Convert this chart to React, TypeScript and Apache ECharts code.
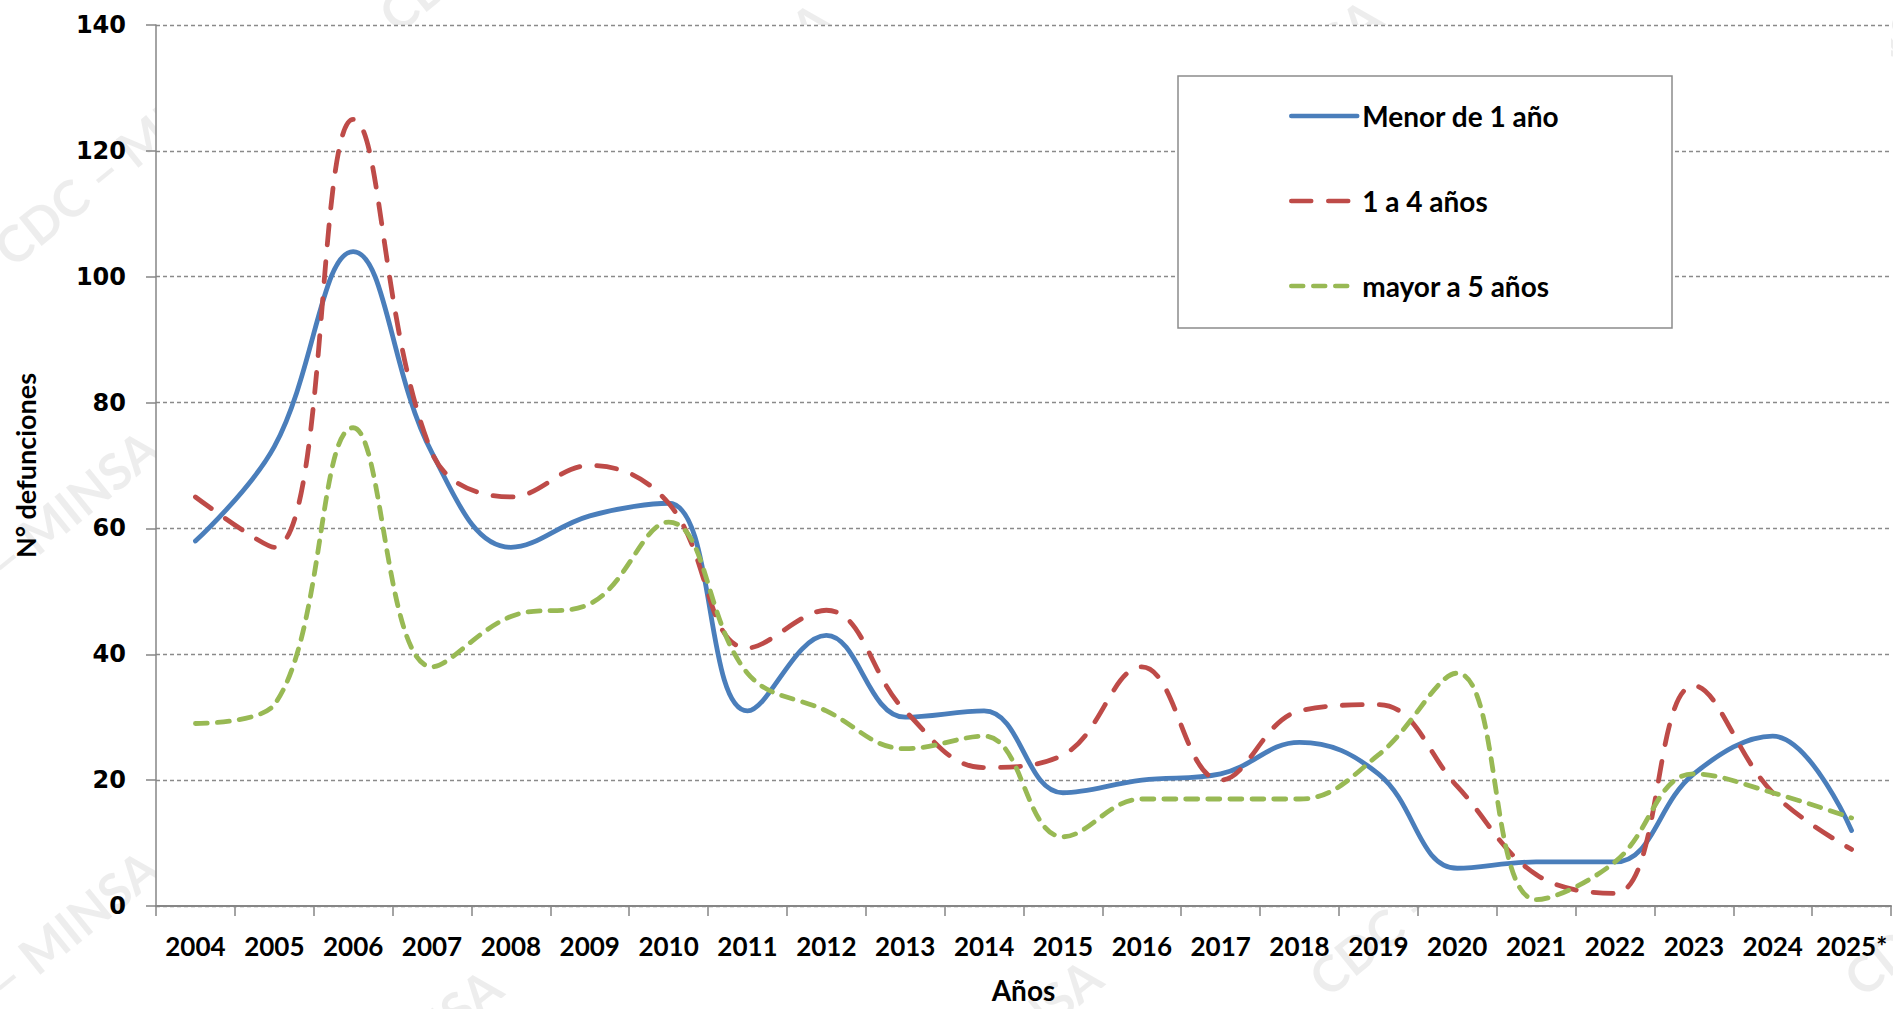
import React, { useEffect, useRef } from "react";
import * as echarts from "echarts";

// ---- Data ----
const years = [
  "2004", "2005", "2006", "2007", "2008", "2009", "2010", "2011", "2012", "2013", "2014",
  "2015", "2016", "2017", "2018", "2019", "2020", "2021", "2022", "2023", "2024", "2025*",
];
const menor1 = [58, 73, 104, 72, 57, 62, 64, 31, 43, 30, 31, 18, 20, 21, 26, 21, 6, 7, 7, 21, 27, 12];
const de1a4 = [65, 57, 125, 72, 65, 70, 64, 41, 47, 31, 22, 24, 38, 20, 31, 32, 19, 5, 2, 35, 18, 9];
const mayor5 = [29, 32, 76, 38, 46, 48, 61, 37, 31, 25, 27, 11, 17, 17, 17, 24, 37, 1, 7, 21, 18, 14];
const seriesNames = ["Menor de 1 año", "1 a 4 años", "mayor a 5 años"];
const yMin = 0;
const yMax = 140;
const yInterval = 20;
const xTitle = "Años";
const yTitle = "N° defunciones";
const watermarkText = "CDC – MINSA";

export default function App() {
  const ref = useRef<HTMLDivElement>(null);

  useEffect(() => {
    if (!ref.current) return;
    const chart = echarts.init(ref.current, undefined, { renderer: "svg" });

    const wmCenters = [
      [125, 154], [700, 113], [1250, 110], [1820, 100],
      [27, 541], [27, 961], [370, 1080], [970, 1070],
      [1440, 884], [1975, 884], [510, -80],
    ];
    const watermarks = wmCenters.map(([x, y]) => ({
      type: "text",
      x,
      y,
      rotation: 0.68,
      z: -1,
      silent: true,
      style: {
        text: watermarkText,
        fill: "rgba(0,0,0,0.07)",
        font: "bold 50px Lato",
        align: "center",
        verticalAlign: "middle",
      },
    }));

    const labelFont = { fontFamily: "Lato", fontWeight: "bold" as const, color: "#000" };

    chart.setOption({
      animation: false,
      backgroundColor: "#fff",
      grid: {
        left: 156,
        right: 2,
        top: 25,
        bottom: 93,
        show: true,
        backgroundColor: "#fff",
        borderWidth: 0,
      },
      graphic: [
        ...watermarks,
        {
          type: "rect",
          z: 3,
          shape: { x: 1178, y: 76, width: 494, height: 252 },
          style: { fill: "#fff", stroke: "#8c8c8c", lineWidth: 1.5 },
        },
      ],
      legend: {
        orient: "vertical",
        left: 1289,
        top: 102,
        itemWidth: 66,
        itemHeight: 14,
        itemGap: 57,
        padding: 0,
        z: 4,
        data: seriesNames,
        itemStyle: { opacity: 0 },
        lineStyle: { width: 4.5 },
        textStyle: { ...labelFont, fontSize: 28 },
      },
      xAxis: {
        type: "category",
        data: years,
        boundaryGap: true,
        axisLine: { lineStyle: { color: "#868686", width: 2 } },
        axisTick: { show: true, length: 10, lineStyle: { color: "#868686", width: 1.5 } },
        axisLabel: { ...labelFont, interval: 0, margin: 27, fontSize: 26 },
        splitLine: { show: false },
        name: xTitle,
        nameLocation: "middle",
        nameGap: 70,
        nameTextStyle: { ...labelFont, fontSize: 28 },
      },
      yAxis: {
        type: "value",
        min: yMin,
        max: yMax,
        interval: yInterval,
        axisLine: { show: true, lineStyle: { color: "#868686", width: 1.5 } },
        axisTick: { show: true, length: 10, lineStyle: { color: "#868686", width: 1.5 } },
        axisLabel: { margin: 30, color: "#000", fontFamily: "DejaVu Sans", fontWeight: "bold", fontSize: 24 },
        splitLine: { show: true, lineStyle: { color: "#8a8a8a", width: 1.3, type: [4, 3] } },
        name: yTitle,
        nameLocation: "middle",
        nameGap: 117,
        nameRotate: 90,
        nameTextStyle: { ...labelFont, fontSize: 27 },
      },
      series: [
        {
          name: seriesNames[0],
          type: "line",
          data: menor1,
          smooth: 0.4,
          symbol: "none",
          showSymbol: false,
          itemStyle: { color: "#4A7EBB" },
          lineStyle: { color: "#4A7EBB", width: 4.8, type: "solid", cap: "round" },
        },
        {
          name: seriesNames[1],
          type: "line",
          data: de1a4,
          smooth: 0.4,
          symbol: "none",
          showSymbol: false,
          itemStyle: { color: "#BE4B48" },
          lineStyle: { color: "#BE4B48", width: 4.8, type: [20, 17], cap: "round" },
        },
        {
          name: seriesNames[2],
          type: "line",
          data: mayor5,
          smooth: 0.4,
          symbol: "none",
          showSymbol: false,
          itemStyle: { color: "#98B954" },
          lineStyle: { color: "#98B954", width: 4.8, type: [12, 10], cap: "round" },
        },
      ],
    });

    return () => chart.dispose();
  }, []);

  return (
    <div
      ref={ref}
      style={{ position: "fixed", left: 0, top: 0, width: 1893, height: 1009, background: "#fff" }}
    />
  );
}
